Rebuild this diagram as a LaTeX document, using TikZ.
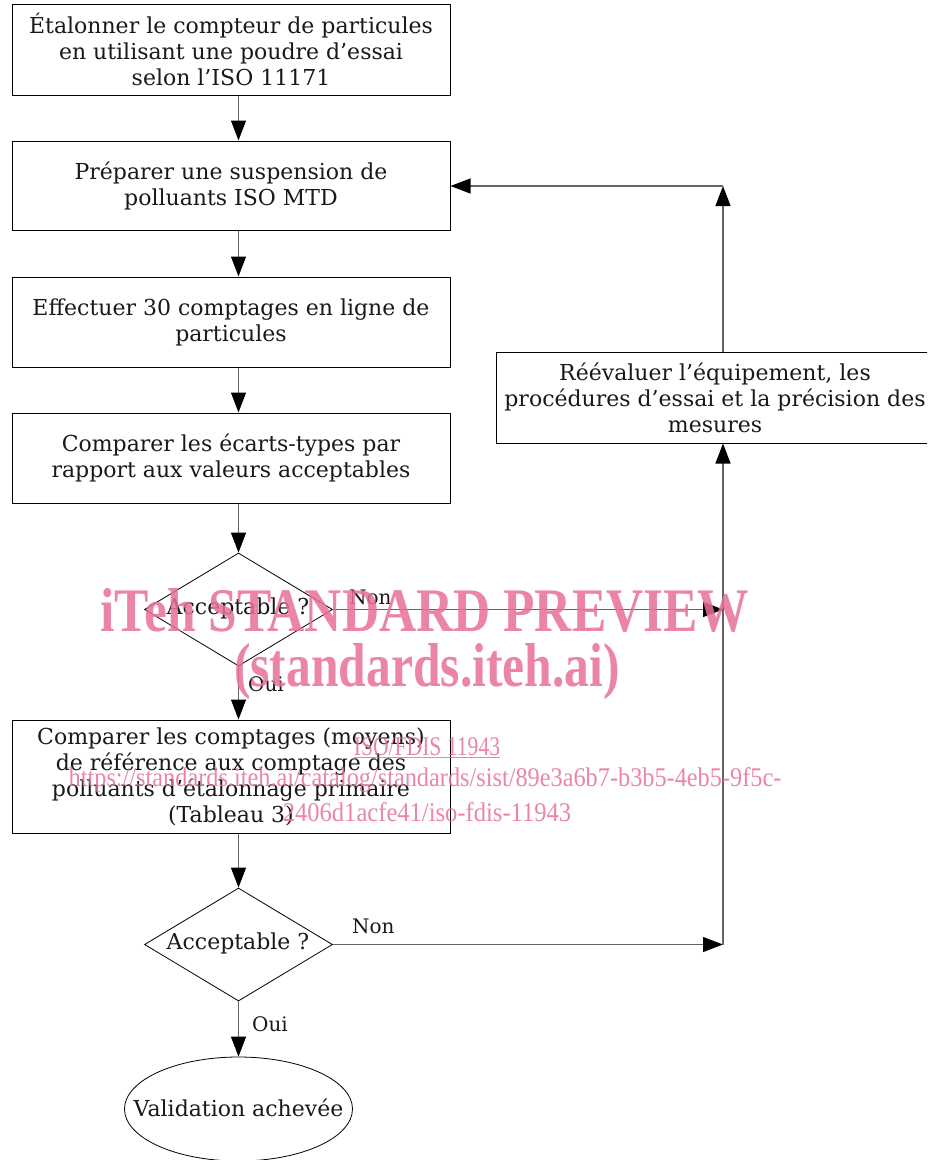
\documentclass[tikz,border=0pt]{standalone}
\usepackage{fontspec}
\setmainfont{DejaVu Serif}
\newfontfamily\wmfont{Liberation Serif}
\usetikzlibrary{shapes.geometric,arrows.meta}
\definecolor{wmpink}{RGB}{232,112,152}
\definecolor{conn}{RGB}{100,100,100}
\tikzset{
  stepbox/.style={draw=black, line width=1pt, rectangle, align=center, inner sep=0pt,
    minimum width=438pt, font=\fontsize{22}{26}\selectfont, text=black!90},
  decision/.style={draw=black, line width=0.8pt, diamond, aspect=1.66, inner sep=0pt,
    minimum width=188pt, minimum height=113pt},
  endnode/.style={draw=black, line width=0.8pt, ellipse, inner sep=0pt,
    minimum width=228pt, minimum height=104pt},
  flow/.style={draw=conn, line width=1.1pt, -{Triangle[length=20pt,width=15pt,color=black,fill=black]}},
  lbl/.style={font=\fontsize{22}{26}\selectfont, inner sep=0pt, text=black!90},
  small/.style={font=\fontsize{20}{24}\selectfont, inner sep=0pt, text=black!90},
  wm/.style={text=wmpink, text opacity=0.85, inner sep=0pt, transform shape}
}
\begin{document}
\begin{tikzpicture}[x=1pt,y=-1pt]
\useasboundingbox (0,0) rectangle (927,1160);
\begin{scope}
\clip (0,0) rectangle (927,1160);
% boxes
\node[stepbox, minimum height=91pt] (b1) at (231,49.5) {Étalonner le compteur de particules\\en utilisant une poudre d’essai\\selon l’ISO 11171};
\node[stepbox, minimum height=89pt] (b2) at (231,185.5) {Préparer une suspension de\\polluants ISO MTD};
\node[stepbox, minimum height=90pt] (b3) at (231,322) {Effectuer 30 comptages en ligne de\\particules};
\node[stepbox, minimum height=90pt] (b4) at (231,458) {Comparer les écarts-types par\\rapport aux valeurs acceptables};
\node[decision] (d1) at (238.5,609.5) {};
\node[lbl] (d1t) at (238,608) {Acceptable ?};
\node[stepbox, minimum height=113pt] (b5) at (231,776.5) {Comparer les comptages (moyens)\\de référence aux comptage des\\polluants d’étalonnage primaire\\(Tableau 3)};
\node[decision] (d2) at (238.5,944.5) {};
\node[lbl] (d2t) at (238,943) {Acceptable ?};
\node[endnode] (e) at (238.5,1109) {};
\node[lbl] (et) at (238.5,1108) {Validation achevée};
\node[stepbox, minimum height=91pt] (b6) at (715,397.5) {Réévaluer l’équipement, les\\procédures d’essai et la précision des\\mesures};
% helper coordinates
\coordinate (c1) at (723,609.5);
\coordinate (c2) at (723,944.5);
\coordinate (c3) at (723,186);
% main column
\draw[flow] (b1.south -| d1.north) -- (b2.north -| d1.north);
\draw[flow] (b2.south -| d1.north) -- (b3.north -| d1.north);
\draw[flow] (b3.south -| d1.north) -- (b4.north -| d1.north);
\draw[flow] (b4.south -| d1.north) -- (d1.north);
\draw[flow] (d1.south) -- (b5.north -| d1.south);
\draw[flow] (b5.south -| d2.north) -- (d2.north);
\draw[flow] (d2.south) -- (e.north);
\node[small, anchor=west] (oui1) at (248,684) {Oui};
\node[small, anchor=west] (oui2) at (252,1024) {Oui};
% Non branches
\draw[flow] (d1.east) -- (c1);
\draw[flow] (d2.east) -- (c2);
\node[small, anchor=west] (non1) at (349,597) {Non};
\node[small, anchor=west] (non2) at (352,926) {Non};
\draw[flow] (c2) -- (b6.south -| c2);
\draw[flow] (b6.north -| c3) -- (c3);
\draw[flow] (c3) -- (b2.east |- c3);
% watermark
\node[wm, xscale=0.83, font=\wmfont\bfseries\fontsize{62}{62}\selectfont] (wm1) at (425,610) {iTeh STANDARD PREVIEW};
\node[wm, xscale=0.8, font=\wmfont\bfseries\fontsize{62}{62}\selectfont] (wm2) at (427,672) {(standards.iteh.ai)};
\node[wm, xscale=0.8, font=\wmfont\fontsize{27}{27}\selectfont] (wm3) at (427,748) {\underline{ISO/FDIS 11943}};
\node[wm, xscale=0.9, font=\wmfont\fontsize{27}{27}\selectfont] (wm4) at (425,780) {https://standards.iteh.ai/catalog/standards/sist/89e3a6b7-b3b5-4eb5-9f5c-};
\node[wm, xscale=0.91, font=\wmfont\fontsize{27}{27}\selectfont] (wm5) at (427,812) {2406d1acfe41/iso-fdis-11943};
\end{scope}
\end{tikzpicture}
\end{document}
